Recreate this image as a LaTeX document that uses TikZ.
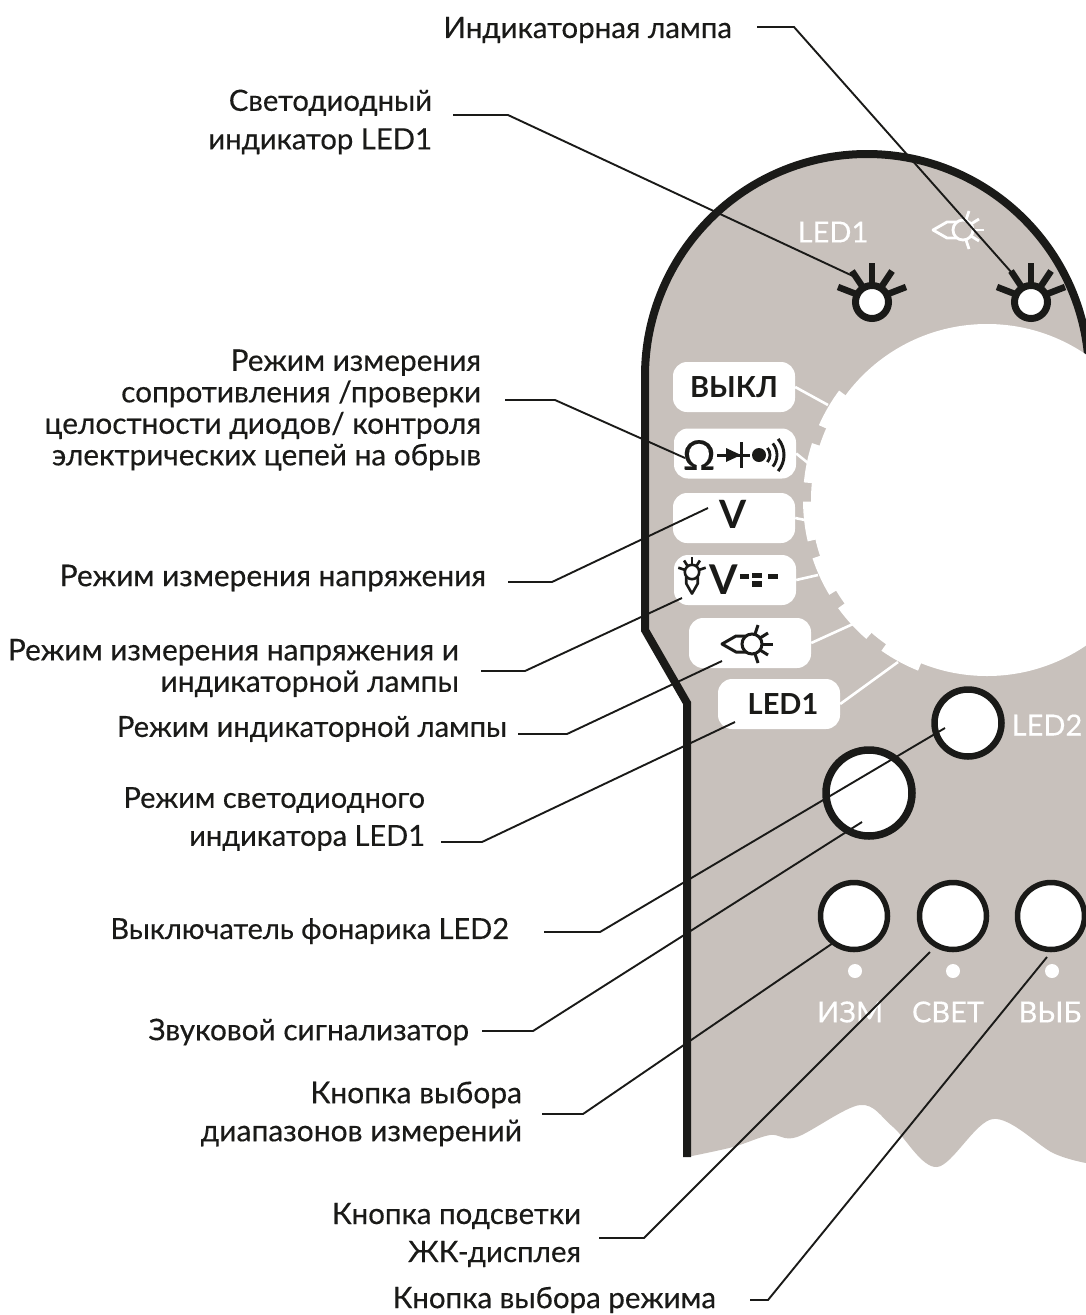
\documentclass[tikz,border=0pt]{standalone}
\usepackage{fontspec}
\setmainfont{Lato}
\newfontfamily\notefont{Lato}[FakeBold=0.35]
\usetikzlibrary{positioning, calc}
\definecolor{panel}{HTML}{C8C1BC}
\definecolor{ink}{HTML}{1A1A18}
\tikzset{
    note/.style = {anchor=east, align=right, inner sep=0pt, text=ink, font=\fontsize{#1}{31.5}\notefont},
    note/.default = 29.5,
    leader/.style = {draw=ink, line width=1.9pt},
    pill/.style = {rectangle, rounded corners=14pt, minimum width=122pt, minimum height=50pt, inner sep=0pt, fill=white, text=ink, font=\fontsize{29}{31}\selectfont\bfseries},
    plate/.style = {inner sep=0pt, text=white, font=\fontsize{29}{31}\notefont},
    tickline/.style = {draw=white, line width=2.6pt},
    bigpush/.style = {circle, draw=ink, fill=white, inner sep=0pt, minimum size=86pt, line width=7.5pt},
    smallpush/.style = {circle, draw=ink, fill=white, inner sep=0pt, minimum size=67pt, line width=5.5pt},
    ledlens/.style = {circle, draw=ink, fill=white, inner sep=0pt, minimum size=33pt, line width=7pt},
    whitedot/.style = {circle, fill=white, inner sep=0pt, minimum size=14pt},
    lampicon/.pic = {
        \draw[line join=round] (-6,-8) -- (-16,-8) -- (-30,0) -- (-16,8) -- (-6,8);
        \draw (0,0) circle[radius=10];
        \draw (10,0) -- (21,0);
        \draw (8,-6) -- (16,-11);
        \draw (8,6) -- (16,11);
        \draw (3,-10) -- (6,-19);
        \draw (3,10) -- (6,19);
    },
    ledicon/.pic = {
        \draw[line width=6.5pt] (0,-18) -- (0,-39);
        \draw[line width=6.5pt] (10,-16) -- (20,-31);
        \draw[line width=6.5pt] (16,-8) -- (34,-15);
        \draw[line width=6.5pt] (-10,-16) -- (-20,-31);
        \draw[line width=6.5pt] (-16,-8) -- (-34,-15);
    }
}
\begin{document}
\begin{tikzpicture}[x=1pt, y=-1pt]
\useasboundingbox (0,0) rectangle (1086,1315);
\clip (0,0) rectangle (1086,1315);

\fill[panel] (687,1157) -- (687,703) -- (645,630) -- (645,376) arc[start angle=180, end angle=360, radius=222] -- (1095,1166) -- plot[smooth, tension=0.55] coordinates {(1086,1163) (1053,1153) (993,1119) (937,1167) (893,1127) (860,1105) (797,1137) (770,1135) (733,1147) (687,1157)} -- cycle;
\draw[draw=ink, line width=8pt] (687,1157) -- (687,703) -- (645,630) -- (645,376) arc[start angle=180, end angle=360, radius=222];

\coordinate (dial) at (987,500);
\fill[white] (dial) circle[radius=176];
\fill[white] (dial) -- ++(-143.5:184) arc[start angle=-143.5, end angle=-156, radius=184] -- cycle;
\fill[white] (dial) -- ++(-162:184) arc[start angle=-162, end angle=-174.5, radius=184] -- cycle;
\fill[white] (dial) -- ++(-180.5:184) arc[start angle=-180.5, end angle=-193, radius=184] -- cycle;
\fill[white] (dial) -- ++(-198.5:184) arc[start angle=-198.5, end angle=-211, radius=184] -- cycle;
\fill[white] (dial) -- ++(-216:184) arc[start angle=-216, end angle=-229, radius=184] -- cycle;
\fill[white] (dial) -- ++(-235:184) arc[start angle=-235, end angle=-248, radius=184] -- cycle;

\node[pill] (offpill) at (734,387) {ВЫКЛ};
\node[pill] (ohmpill) at (735,453.5) {};
\node[pill] (voltpill) at (734,518) {};
\node[pill] (lampvpill) at (735,580) {};
\node[pill] (lamppill) at (750,643) {};
\node[pill] (ledpill) at (779,704) {};

\coordinate (offtip) at (828,405);
\coordinate (ohmtip) at (808,463);
\coordinate (volttip) at (805,520);
\coordinate (lampvtip) at (818,575);
\coordinate (lamptip) at (853,624);
\coordinate (ledtip) at (898,662);
\draw[tickline] (offpill.east) -- (offtip);
\draw[tickline] (ohmpill.east) -- (ohmtip);
\draw[tickline] (voltpill.east) -- (volttip);
\draw[tickline] (lampvpill.east) -- (lampvtip);
\draw[tickline] (lamppill.east) -- (lamptip);
\draw[tickline] (ledpill.east) -- (ledtip);

\node[inner sep=0pt, text=ink, font=\fontsize{41}{41}\notefont] (ohm) at (699,455) {Ω};
\draw[draw=ink, line width=3pt] (717,455) -- (750,455);
\fill[ink] (726,448) -- (741,455) -- (726,462) -- cycle;
\draw[draw=ink, line width=3pt] (741,442) -- (741,468);
\fill[ink] (759,455) circle[radius=7];
\coordinate (sound) at (759,455);
\draw[draw=ink, line width=2.8pt] ([shift={(-40:11)}]sound) arc[start angle=-40, end angle=40, radius=11];
\draw[draw=ink, line width=2.8pt] ([shift={(-40:18)}]sound) arc[start angle=-40, end angle=40, radius=18];
\draw[draw=ink, line width=3pt] ([shift={(-40:25)}]sound) arc[start angle=-40, end angle=40, radius=25];

\node[inner sep=0pt, text=ink, font=\fontsize{39}{39}\selectfont\bfseries] (volt) at (733,514) {V};

\pic[color=ink, line width=2.6pt, scale=0.72, rotate=90] at (692,572) {lampicon};
\node[inner sep=0pt, text=ink, font=\fontsize{41}{41}\selectfont\bfseries] (lampv) at (724,580) {V};
\fill[ink] (740,574) rectangle (749,579);
\fill[ink] (752,573) rectangle (762,578);
\fill[ink] (752,581) rectangle (762,587);
\fill[ink] (768,574) rectangle (778,579);

\pic[color=ink, line width=3pt] at (752,644) {lampicon};
\pic[color=white, line width=2.8pt] at (963,230) {lampicon};

\node[inner sep=0pt, text=ink, font=\fontsize{29}{31}\selectfont\bfseries] (ledtext) at (783,704) {LED1};
\node[plate] (ledone) at (833,232) {LED1};
\pic[color=ink] at (872,302) {ledicon};
\pic[color=ink] at (1031,302) {ledicon};
\node[ledlens] (ledlamp) at (872,302) {};
\node[ledlens] (indlamp) at (1031,302) {};

\node[bigpush] (buzzer) at (869,793) {};
\node[smallpush, line width=6.5pt] (torch) at (968,723) {};
\node[plate] (ledtwo) at (1047,725) {LED2};
\node[smallpush] (rangebtn) at (854,916) {};
\node[smallpush] (lightbtn) at (953,916) {};
\node[smallpush] (modebtn) at (1051,916) {};
\node[whitedot] (rangedot) at (855,971) {};
\node[whitedot] (lightdot) at (953,971) {};
\node[whitedot] (modedot) at (1052,971) {};
\node[plate] (rangetxt) at (850,1012) {ИЗМ};
\node[plate] (lighttxt) at (948,1012) {СВЕТ};
\node[plate] (modetxt) at (1050,1012) {ВЫБ};

\node[note, outer xsep=25pt] (lamp) at (757,30) {Индикаторная лампа};
\node[note=29.3, outer xsep=21pt] (diode) at (453,122) {Светодиодный\\[7pt]индикатор LED1};
\node[note=29.8, outer xsep=24pt] (resist) at (505,410) {Режим измерения\\сопротивления /проверки\\целостности диодов/ контроля\\электрических цепей на обрыв};
\node[note=29.9, outer xsep=22pt] (voltage) at (508,578) {Режим измерения напряжения};
\node[note=29.9, outer xsep=22pt] (voltlamp) at (481,668) {Режим измерения напряжения и\\индикаторной лампы};
\node[note=29.1, outer xsep=11pt] (lampmode) at (518,729) {Режим индикаторной лампы};
\node[note=29, outer xsep=16pt] (ledmode) at (441,819) {Режим светодиодного\\[6.5pt]индикатора LED1};
\node[note=29, outer xsep=35pt] (switch) at (544,931) {Выключатель фонарика LED2};
\node[note=29.8, outer xsep=13pt] (buzz) at (482,1032) {Звуковой сигнализатор};
\node[note=30, outer xsep=20pt] (range) at (542,1114) {Кнопка выбора\\[6.5pt]диапазонов измерений};
\node[note, outer xsep=18pt] (backlight) at (599,1235) {Кнопка подсветки\\[6.5pt]ЖК-дисплея};
\node[note, outer xsep=34pt] (select) at (750,1300) {Кнопка выбора режима};

\coordinate (lampbend) at (794,27);
\coordinate (lampend) at (1012,273);
\coordinate (diodebend) at (508,115);
\coordinate (diodeend) at (855,277);
\coordinate (resistbend) at (555,400);
\coordinate (resistend) at (685,458);
\coordinate (voltagebend) at (552,582);
\coordinate (voltageend) at (708,508);
\coordinate (voltlampbend) at (525,671);
\coordinate (voltlampend) at (682,598);
\coordinate (lampmodebend) at (567,734);
\coordinate (lampmodeend) at (722,661);
\coordinate (ledmodebend) at (482,842);
\coordinate (ledmodeend) at (735,722);
\coordinate (switchbend) at (600,932);
\coordinate (switchend) at (945,728);
\coordinate (buzzbend) at (533,1031);
\coordinate (buzzend) at (862,822);
\coordinate (rangebend) at (583,1114);
\coordinate (rangeend) at (833,943);
\coordinate (backlightbend) at (644,1238);
\coordinate (backlightend) at (930,952);
\coordinate (selectbend) at (768,1300);
\coordinate (selectend) at (1047,957);

\draw[leader] (lamp.east |- lampbend) -- (lampbend) -- (lampend);
\draw[leader] (diode.east |- diodebend) -- (diodebend) -- (diodeend);
\draw[leader] (resist.east |- resistbend) -- (resistbend) -- (resistend);
\draw[leader] (voltage.east |- voltagebend) -- (voltagebend) -- (voltageend);
\draw[leader] (voltlamp.east |- voltlampbend) -- (voltlampbend) -- (voltlampend);
\draw[leader] (lampmode.east |- lampmodebend) -- (lampmodebend) -- (lampmodeend);
\draw[leader] (ledmode.east |- ledmodebend) -- (ledmodebend) -- (ledmodeend);
\draw[leader] (switch.east |- switchbend) -- (switchbend) -- (switchend);
\draw[leader] (buzz.east |- buzzbend) -- (buzzbend) -- (buzzend);
\draw[leader] (range.east |- rangebend) -- (rangebend) -- (rangeend);
\draw[leader] (backlight.east |- backlightbend) -- (backlightbend) -- (backlightend);
\draw[leader] (select.east |- selectbend) -- (selectbend) -- (selectend);
\end{tikzpicture}
\end{document}
